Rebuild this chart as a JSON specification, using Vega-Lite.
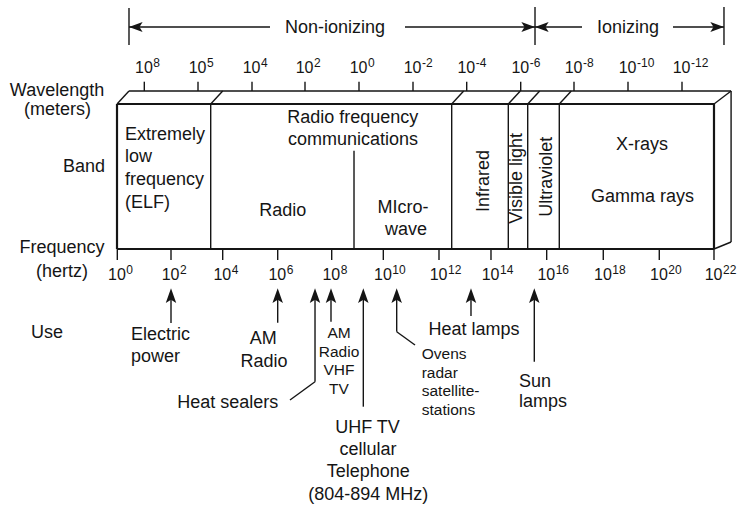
{
  "$schema": "https://vega.github.io/schema/vega-lite/v6.json",
  "width": 737,
  "height": 505,
  "autosize": {"type": "none"},
  "padding": 0,
  "background": "white",
  "config": {"view": {"stroke": null}, "text": {"font": "Liberation Sans", "color": "#151515"}},
  "datasets": {
    "frame": [
      {"x": 0, "y": 104, "x2": 22, "y2": 104},
      {"x": 0, "y": 249, "x2": 22, "y2": 249},
      {"x": 0, "y": 104, "x2": 0, "y2": 249},
      {"x": 22, "y": 104, "x2": 22, "y2": 249}
    ],
    "lines": [
      {"x": 0.442, "y": 91, "x2": 22.63, "y2": 91},
      {"x": 0, "y": 104, "x2": 0.442, "y2": 91},
      {"x": 22, "y": 104, "x2": 22.63, "y2": 91},
      {"x": 22.63, "y": 91, "x2": 22.63, "y2": 242},
      {"x": 22, "y": 249, "x2": 22.63, "y2": 242},
      {"x": 3.453, "y": 104, "x2": 3.453, "y2": 249},
      {"x": 3.453, "y": 104, "x2": 3.895, "y2": 91},
      {"x": 12.334, "y": 104, "x2": 12.334, "y2": 249},
      {"x": 12.334, "y": 104, "x2": 12.776, "y2": 91},
      {"x": 14.42, "y": 104, "x2": 14.42, "y2": 249},
      {"x": 14.42, "y": 104, "x2": 14.862, "y2": 91},
      {"x": 15.135, "y": 104, "x2": 15.135, "y2": 249},
      {"x": 15.135, "y": 104, "x2": 15.577, "y2": 91},
      {"x": 16.299, "y": 104, "x2": 16.299, "y2": 249},
      {"x": 16.299, "y": 104, "x2": 16.741, "y2": 91},
      {"x": 8.734, "y": 150.7, "x2": 8.734, "y2": 249},
      {"x": 0.442, "y": 8, "x2": 0.442, "y2": 45},
      {"x": 15.404, "y": 7, "x2": 15.404, "y2": 45},
      {"x": 22.368, "y": 7, "x2": 22.368, "y2": 45},
      {"x": 0.442, "y": 27, "x2": 5.638, "y2": 27},
      {"x": 10.613, "y": 27, "x2": 15.404, "y2": 27},
      {"x": 15.404, "y": 27, "x2": 17.136, "y2": 27},
      {"x": 20.489, "y": 27, "x2": 22.368, "y2": 27},
      {"x": 1.99, "y": 295, "x2": 1.99, "y2": 323},
      {"x": 5.922, "y": 295, "x2": 5.922, "y2": 322.7},
      {"x": 7.297, "y": 295, "x2": 7.297, "y2": 381.7},
      {"x": 7.297, "y": 381.7, "x2": 6.375, "y2": 400},
      {"x": 7.886, "y": 295, "x2": 7.886, "y2": 321.7},
      {"x": 9.077, "y": 295, "x2": 9.077, "y2": 406.7},
      {"x": 10.307, "y": 295, "x2": 10.307, "y2": 331.7},
      {"x": 10.307, "y": 331.7, "x2": 10.982, "y2": 345},
      {"x": 13.045, "y": 295, "x2": 13.045, "y2": 316},
      {"x": 15.378, "y": 295, "x2": 15.378, "y2": 361.7}
    ],
    "arrowheads": [
      {"x": 0.442, "y": 27, "dir": "left"},
      {"x": 15.404, "y": 27, "dir": "right"},
      {"x": 15.404, "y": 27, "dir": "left"},
      {"x": 22.368, "y": 27, "dir": "right"},
      {"x": 1.99, "y": 288.3, "dir": "up"},
      {"x": 5.922, "y": 288.3, "dir": "up"},
      {"x": 7.297, "y": 288.3, "dir": "up"},
      {"x": 7.886, "y": 288.3, "dir": "up"},
      {"x": 9.077, "y": 288.3, "dir": "up"},
      {"x": 10.307, "y": 288.3, "dir": "up"},
      {"x": 13.045, "y": 288.3, "dir": "up"},
      {"x": 15.378, "y": 288.3, "dir": "up"}
    ],
    "freqTicks": [
      {"x": 0.011, "e": "0"}, {"x": 1.99, "e": "2"}, {"x": 3.895, "e": "4"},
      {"x": 5.922, "e": "6"}, {"x": 7.912, "e": "8"}, {"x": 9.814, "e": "10"},
      {"x": 11.866, "e": "12"}, {"x": 13.782, "e": "14"}, {"x": 15.834, "e": "16"},
      {"x": 17.92, "e": "18"}, {"x": 19.984, "e": "20"}, {"x": 22.0, "e": "22"}
    ],
    "waveTicks": [
      {"x": 1.006, "e": "8"}, {"x": 2.985, "e": "5"}, {"x": 4.975, "e": "4"},
      {"x": 6.928, "e": "2"}, {"x": 8.918, "e": "0"}, {"x": 10.908, "e": "-2"},
      {"x": 12.887, "e": "-4"}, {"x": 14.877, "e": "-6"}, {"x": 16.841, "e": "-8"},
      {"x": 18.831, "e": "-10"}, {"x": 20.821, "e": "-12"}
    ],
    "bigCenter": [
      {"t": "Non-ionizing", "x": 8.034, "y": 33.3},
      {"t": "Ionizing", "x": 18.831, "y": 33.3},
      {"t": "Wavelength", "x": -2.211, "y": 96},
      {"t": "(meters)", "x": -2.193, "y": 115},
      {"t": "Band", "x": -1.216, "y": 171.7},
      {"t": "Frequency", "x": -2.027, "y": 253.3},
      {"t": "(hertz)", "x": -2.027, "y": 276.7},
      {"t": "Use", "x": -2.58, "y": 338.3},
      {"t": "Radio frequency", "x": 8.686, "y": 123.3},
      {"t": "communications", "x": 8.697, "y": 145.3},
      {"t": "Radio", "x": 6.106, "y": 216},
      {"t": "MIcro-", "x": 10.54, "y": 213.3},
      {"t": "wave", "x": 10.65, "y": 234.5},
      {"t": "X-rays", "x": 19.347, "y": 150},
      {"t": "Gamma rays", "x": 19.365, "y": 201.5},
      {"t": "AM", "x": 5.391, "y": 344},
      {"t": "Radio", "x": 5.417, "y": 366.7},
      {"t": "Heat sealers", "x": 4.079, "y": 408.3},
      {"t": "UHF TV", "x": 9.231, "y": 432.7},
      {"t": "cellular", "x": 9.25, "y": 455},
      {"t": "Telephone", "x": 9.261, "y": 477.3},
      {"t": "(804-894 MHz)", "x": 9.261, "y": 500},
      {"t": "Heat lamps", "x": 13.156, "y": 335}
    ],
    "bigLeft": [
      {"t": "Extremely", "x": 0.295, "y": 140},
      {"t": "low", "x": 0.295, "y": 162.3},
      {"t": "frequency", "x": 0.295, "y": 184.6},
      {"t": "(ELF)", "x": 0.295, "y": 207.5},
      {"t": "Electric", "x": 0.516, "y": 340},
      {"t": "power", "x": 0.516, "y": 361.5},
      {"t": "Sun", "x": 14.814, "y": 387},
      {"t": "lamps", "x": 14.814, "y": 406.7}
    ],
    "smallCenter": [
      {"t": "AM", "x": 8.181, "y": 338.3},
      {"t": "Radio", "x": 8.181, "y": 356.5},
      {"t": "VHF", "x": 8.181, "y": 375},
      {"t": "TV", "x": 8.181, "y": 393.5}
    ],
    "smallLeft": [
      {"t": "Ovens", "x": 11.229, "y": 359.3},
      {"t": "radar", "x": 11.229, "y": 377.7},
      {"t": "satellite-", "x": 11.229, "y": 396},
      {"t": "stations", "x": 11.229, "y": 415}
    ],
    "rotated": [
      {"t": "Infrared", "x": 13.709, "y": 181},
      {"t": "Visible light", "x": 14.943, "y": 178.3},
      {"t": "Ultraviolet", "x": 16.03, "y": 176.7}
    ]
  },
  "layer": [
    {
      "data": {"name": "lines"},
      "mark": {"type": "rule", "color": "#151515", "strokeWidth": 1.4},
      "encoding": {
        "x": {"field": "x", "type": "quantitative", "scale": {"domain": [-4.3117, 22.8478], "nice": false, "zero": false}, "axis": null},
        "y": {"field": "y", "type": "quantitative", "scale": {"domain": [0, 505], "reverse": true, "nice": false, "zero": false}, "axis": null},
        "x2": {"field": "x2"},
        "y2": {"field": "y2"}
      }
    },
    {
      "data": {"name": "frame"},
      "mark": {"type": "rule", "color": "#151515", "strokeWidth": 2.2},
      "encoding": {
        "x": {"field": "x", "type": "quantitative", "scale": {"domain": [-4.3117, 22.8478], "nice": false, "zero": false}, "axis": null},
        "y": {"field": "y", "type": "quantitative", "scale": {"domain": [0, 505], "reverse": true, "nice": false, "zero": false}, "axis": null},
        "x2": {"field": "x2"},
        "y2": {"field": "y2"}
      }
    },
    {
      "data": {"name": "freqTicks"},
      "mark": {"type": "rule", "color": "#151515", "strokeWidth": 1.4},
      "encoding": {
        "x": {"field": "x", "type": "quantitative", "scale": {"domain": [-4.3117, 22.8478], "nice": false, "zero": false}, "axis": null},
        "y": {"datum": 249, "type": "quantitative", "scale": {"domain": [0, 505], "reverse": true, "nice": false, "zero": false}, "axis": null},
        "y2": {"datum": 260}
      }
    },
    {
      "data": {"name": "waveTicks"},
      "mark": {"type": "rule", "color": "#151515", "strokeWidth": 1.4},
      "encoding": {
        "x": {"field": "x", "type": "quantitative", "scale": {"domain": [-4.3117, 22.8478], "nice": false, "zero": false}, "axis": null},
        "y": {"datum": 91, "type": "quantitative", "scale": {"domain": [0, 505], "reverse": true, "nice": false, "zero": false}, "axis": null},
        "y2": {"datum": 81.7}
      }
    },
    {
      "data": {"name": "arrowheads"},
      "mark": {"type": "point", "filled": true, "opacity": 1, "size": 110, "color": "#151515", "strokeWidth": 0},
      "encoding": {
        "x": {"field": "x", "type": "quantitative", "scale": {"domain": [-4.3117, 22.8478], "nice": false, "zero": false}, "axis": null},
        "y": {"field": "y", "type": "quantitative", "scale": {"domain": [0, 505], "reverse": true, "nice": false, "zero": false}, "axis": null},
        "shape": {
          "field": "dir", "type": "nominal", "legend": null,
          "scale": {"domain": ["left", "right", "up"], "range": ["M0,0 L2.6,-0.95 L2,0 L2.6,0.95 Z", "M0,0 L-2.6,-0.95 L-2,0 L-2.6,0.95 Z", "M0,0 L-1,2.8 L0,2.2 L1,2.8 Z"]}
        }
      }
    },
    {
      "data": {"name": "freqTicks"},
      "mark": {"type": "text", "fontSize": 16, "align": "right", "baseline": "alphabetic", "dx": 8.5},
      "encoding": {
        "x": {"field": "x", "type": "quantitative", "scale": {"domain": [-4.3117, 22.8478], "nice": false, "zero": false}, "axis": null},
        "y": {"datum": 280, "type": "quantitative", "scale": {"domain": [0, 505], "reverse": true, "nice": false, "zero": false}, "axis": null},
        "text": {"value": "10"}
      }
    },
    {
      "data": {"name": "freqTicks"},
      "mark": {"type": "text", "fontSize": 12, "align": "left", "baseline": "alphabetic", "dx": 9, "dy": -6.5},
      "encoding": {
        "x": {"field": "x", "type": "quantitative", "scale": {"domain": [-4.3117, 22.8478], "nice": false, "zero": false}, "axis": null},
        "y": {"datum": 280, "type": "quantitative", "scale": {"domain": [0, 505], "reverse": true, "nice": false, "zero": false}, "axis": null},
        "text": {"field": "e"}
      }
    },
    {
      "data": {"name": "waveTicks"},
      "mark": {"type": "text", "fontSize": 16, "align": "right", "baseline": "alphabetic", "dx": 8.5},
      "encoding": {
        "x": {"field": "x", "type": "quantitative", "scale": {"domain": [-4.3117, 22.8478], "nice": false, "zero": false}, "axis": null},
        "y": {"datum": 73.3, "type": "quantitative", "scale": {"domain": [0, 505], "reverse": true, "nice": false, "zero": false}, "axis": null},
        "text": {"value": "10"}
      }
    },
    {
      "data": {"name": "waveTicks"},
      "mark": {"type": "text", "fontSize": 12, "align": "left", "baseline": "alphabetic", "dx": 9, "dy": -6.5},
      "encoding": {
        "x": {"field": "x", "type": "quantitative", "scale": {"domain": [-4.3117, 22.8478], "nice": false, "zero": false}, "axis": null},
        "y": {"datum": 73.3, "type": "quantitative", "scale": {"domain": [0, 505], "reverse": true, "nice": false, "zero": false}, "axis": null},
        "text": {"field": "e"}
      }
    },
    {
      "data": {"name": "bigCenter"},
      "mark": {"type": "text", "fontSize": 18, "align": "center", "baseline": "alphabetic"},
      "encoding": {
        "x": {"field": "x", "type": "quantitative", "scale": {"domain": [-4.3117, 22.8478], "nice": false, "zero": false}, "axis": null},
        "y": {"field": "y", "type": "quantitative", "scale": {"domain": [0, 505], "reverse": true, "nice": false, "zero": false}, "axis": null},
        "text": {"field": "t"}
      }
    },
    {
      "data": {"name": "bigLeft"},
      "mark": {"type": "text", "fontSize": 18, "align": "left", "baseline": "alphabetic"},
      "encoding": {
        "x": {"field": "x", "type": "quantitative", "scale": {"domain": [-4.3117, 22.8478], "nice": false, "zero": false}, "axis": null},
        "y": {"field": "y", "type": "quantitative", "scale": {"domain": [0, 505], "reverse": true, "nice": false, "zero": false}, "axis": null},
        "text": {"field": "t"}
      }
    },
    {
      "data": {"name": "smallCenter"},
      "mark": {"type": "text", "fontSize": 15.5, "align": "center", "baseline": "alphabetic"},
      "encoding": {
        "x": {"field": "x", "type": "quantitative", "scale": {"domain": [-4.3117, 22.8478], "nice": false, "zero": false}, "axis": null},
        "y": {"field": "y", "type": "quantitative", "scale": {"domain": [0, 505], "reverse": true, "nice": false, "zero": false}, "axis": null},
        "text": {"field": "t"}
      }
    },
    {
      "data": {"name": "smallLeft"},
      "mark": {"type": "text", "fontSize": 15.5, "align": "left", "baseline": "alphabetic"},
      "encoding": {
        "x": {"field": "x", "type": "quantitative", "scale": {"domain": [-4.3117, 22.8478], "nice": false, "zero": false}, "axis": null},
        "y": {"field": "y", "type": "quantitative", "scale": {"domain": [0, 505], "reverse": true, "nice": false, "zero": false}, "axis": null},
        "text": {"field": "t"}
      }
    },
    {
      "data": {"name": "rotated"},
      "mark": {"type": "text", "fontSize": 18, "align": "center", "baseline": "alphabetic", "angle": 270},
      "encoding": {
        "x": {"field": "x", "type": "quantitative", "scale": {"domain": [-4.3117, 22.8478], "nice": false, "zero": false}, "axis": null},
        "y": {"field": "y", "type": "quantitative", "scale": {"domain": [0, 505], "reverse": true, "nice": false, "zero": false}, "axis": null},
        "text": {"field": "t"}
      }
    }
  ]
}
